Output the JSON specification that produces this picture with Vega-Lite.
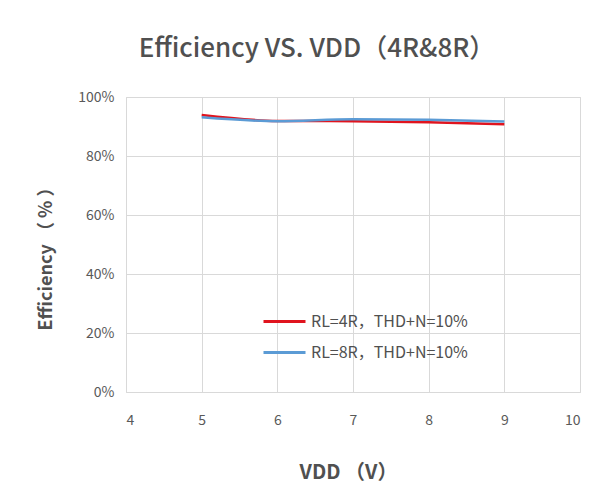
{
  "$schema": "https://vega.github.io/schema/vega-lite/v6.json",
  "autosize": "none",
  "width": 454,
  "height": 295,
  "padding": {"left": 126, "top": 97, "right": 33, "bottom": 109},
  "background": "white",
  "title": {
    "text": "Efficiency VS. VDD（4R&8R）",
    "font": "Noto Sans CJK SC",
    "fontSize": 26,
    "fontWeight": 500,
    "color": "#505050",
    "anchor": "middle",
    "dx": -36,
    "offset": 28
  },
  "data": {
    "values": [
      {"vdd": 5, "eff": 93.9, "series": "RL=4R，THD+N=10%"},
      {"vdd": 6, "eff": 91.9, "series": "RL=4R，THD+N=10%"},
      {"vdd": 7, "eff": 91.8, "series": "RL=4R，THD+N=10%"},
      {"vdd": 8, "eff": 91.4, "series": "RL=4R，THD+N=10%"},
      {"vdd": 9, "eff": 90.8, "series": "RL=4R，THD+N=10%"},
      {"vdd": 5, "eff": 93.1, "series": "RL=8R，THD+N=10%"},
      {"vdd": 6, "eff": 91.8, "series": "RL=8R，THD+N=10%"},
      {"vdd": 7, "eff": 92.5, "series": "RL=8R，THD+N=10%"},
      {"vdd": 8, "eff": 92.3, "series": "RL=8R，THD+N=10%"},
      {"vdd": 9, "eff": 91.7, "series": "RL=8R，THD+N=10%"}
    ]
  },
  "mark": {"type": "line", "interpolate": "monotone", "strokeWidth": 2.5},
  "encoding": {
    "x": {
      "field": "vdd",
      "type": "quantitative",
      "scale": {"domain": [4, 10], "nice": false, "zero": false},
      "axis": {
        "values": [4, 5, 6, 7, 8, 9, 10],
        "title": "VDD （V）",
        "titleFont": "Noto Sans CJK SC",
        "titleFontSize": 20,
        "titleFontWeight": "bold",
        "titleColor": "#505050",
        "titlePadding": 35,
        "titleX": 222,
        "labelFont": "Noto Sans CJK SC",
        "labelFontSize": 14,
        "labelColor": "#595959",
        "labelPadding": 21,
        "ticks": false,
        "domain": false,
        "grid": true,
        "gridColor": "#d9d9d9",
        "gridWidth": 1
      }
    },
    "y": {
      "field": "eff",
      "type": "quantitative",
      "scale": {"domain": [0, 100], "nice": false},
      "axis": {
        "values": [0, 20, 40, 60, 80, 100],
        "labelExpr": "datum.value + '%'",
        "title": "Efficiency （ % ）",
        "titleFont": "Noto Sans CJK SC",
        "titleFontSize": 18,
        "titleFontWeight": "bold",
        "titleColor": "#505050",
        "titlePadding": 22,
        "titleY": 157,
        "labelFont": "Noto Sans CJK SC",
        "labelFontSize": 14,
        "labelColor": "#595959",
        "labelPadding": 12,
        "ticks": false,
        "domain": false,
        "grid": true,
        "gridColor": "#d9d9d9",
        "gridWidth": 1
      }
    },
    "color": {
      "field": "series",
      "type": "nominal",
      "scale": {"domain": ["RL=4R，THD+N=10%", "RL=8R，THD+N=10%"], "range": ["#e0141e", "#5b9bd5"]},
      "legend": {
        "orient": "none",
        "legendX": 136,
        "legendY": 202,
        "title": null,
        "symbolType": "stroke",
        "symbolSize": 1764,
        "symbolStrokeWidth": 3,
        "labelFont": "Noto Sans CJK SC",
        "labelFontSize": 16,
        "labelColor": "#505050",
        "labelOffset": 4,
        "rowPadding": -10
      }
    }
  },
  "config": {
    "view": {"stroke": "#d9d9d9"}
  }
}
